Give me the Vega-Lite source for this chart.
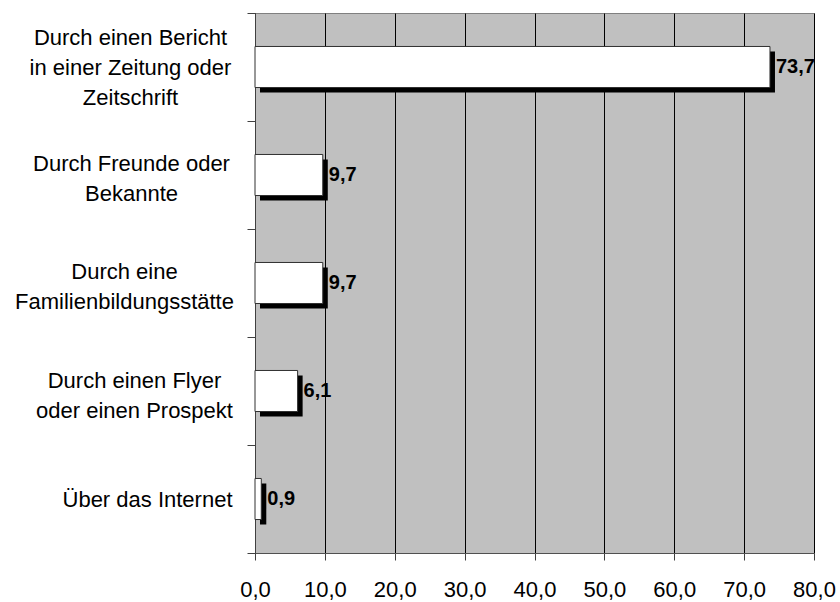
{
  "$schema": "https://vega.github.io/schema/vega-lite/v6.json",
  "width": 559,
  "height": 540,
  "autosize": {"type": "none"},
  "padding": {"left": 255, "top": 13, "right": 26, "bottom": 49},
  "background": "white",
  "config": {
    "locale": {"number": {"decimal": ",", "thousands": ".", "grouping": [3], "currency": ["", " €"]}},
    "view": {"fill": "#C0C0C0", "stroke": "#808080", "strokeWidth": 1},
    "font": "Liberation Sans"
  },
  "data": {
    "values": [
      {"antwort": "Durch einen Bericht|in einer Zeitung oder|Zeitschrift", "prozent": 73.7},
      {"antwort": "Durch Freunde oder|Bekannte", "prozent": 9.7},
      {"antwort": "Durch eine|Familienbildungsstätte", "prozent": 9.7},
      {"antwort": "Durch einen Flyer|oder einen Prospekt", "prozent": 6.1},
      {"antwort": "Über das Internet", "prozent": 0.9}
    ]
  },
  "encoding": {
    "y": {
      "field": "antwort",
      "type": "nominal",
      "sort": null,
      "scale": {"paddingInner": 0, "paddingOuter": 0},
      "axis": {
        "title": null,
        "labelExpr": "datum.value ? split(datum.value, '|') : ''",
        "labelAlign": "center",
        "labelBaseline": "middle",
        "labelFont": "Liberation Sans",
        "labelFontSize": 22,
        "labelLineHeight": 30,
        "labelLimit": 400,
        "labelColor": "black",
        "labelPadding": {
          "condition": [
            {"test": "datum.value === 'Durch einen Bericht|in einer Zeitung oder|Zeitschrift'", "value": 117},
            {"test": "datum.value === 'Durch Freunde oder|Bekannte'", "value": 116},
            {"test": "datum.value === 'Durch eine|Familienbildungsstätte'", "value": 123},
            {"test": "datum.value === 'Durch einen Flyer|oder einen Prospekt'", "value": 113}
          ],
          "value": 100
        },
        "labelOffset": {
          "condition": [
            {"test": "datum.value === 'Durch einen Bericht|in einer Zeitung oder|Zeitschrift'", "value": -30},
            {"test": "datum.value === 'Durch Freunde oder|Bekannte'", "value": -12},
            {"test": "datum.value === 'Durch eine|Familienbildungsstätte'", "value": -12},
            {"test": "datum.value === 'Durch einen Flyer|oder einen Prospekt'", "value": -11}
          ],
          "value": 0
        },
        "tickBand": "extent",
        "tickSize": 8,
        "tickColor": "#404040",
        "domainColor": "#404040",
        "grid": false
      }
    },
    "x": {
      "field": "prozent",
      "type": "quantitative",
      "scale": {"domain": [0, 80], "nice": false},
      "axis": {
        "title": null,
        "values": [0, 10, 20, 30, 40, 50, 60, 70, 80],
        "format": ".1f",
        "grid": true,
        "gridColor": "black",
        "gridWidth": 1,
        "tickSize": 7,
        "tickColor": "#404040",
        "domainColor": "#505050",
        "labelFont": "Liberation Sans",
        "labelFontSize": 22,
        "labelColor": "black",
        "labelPadding": 19,
        "labelFlush": false,
        "labelOverlap": false
      }
    }
  },
  "layer": [
    {"mark": {"type": "bar", "color": "black", "xOffset": 5, "yOffset": 5, "height": {"band": 0.38}}},
    {"mark": {"type": "bar", "color": "white", "stroke": "#303030", "strokeWidth": 1, "height": {"band": 0.38}}},
    {
      "mark": {"type": "text", "align": "left", "baseline": "middle", "dx": 6, "fontWeight": "bold", "fontSize": 20, "font": "Liberation Sans", "color": "black"},
      "encoding": {"text": {"field": "prozent", "type": "quantitative", "format": ".1f"}}
    }
  ]
}
